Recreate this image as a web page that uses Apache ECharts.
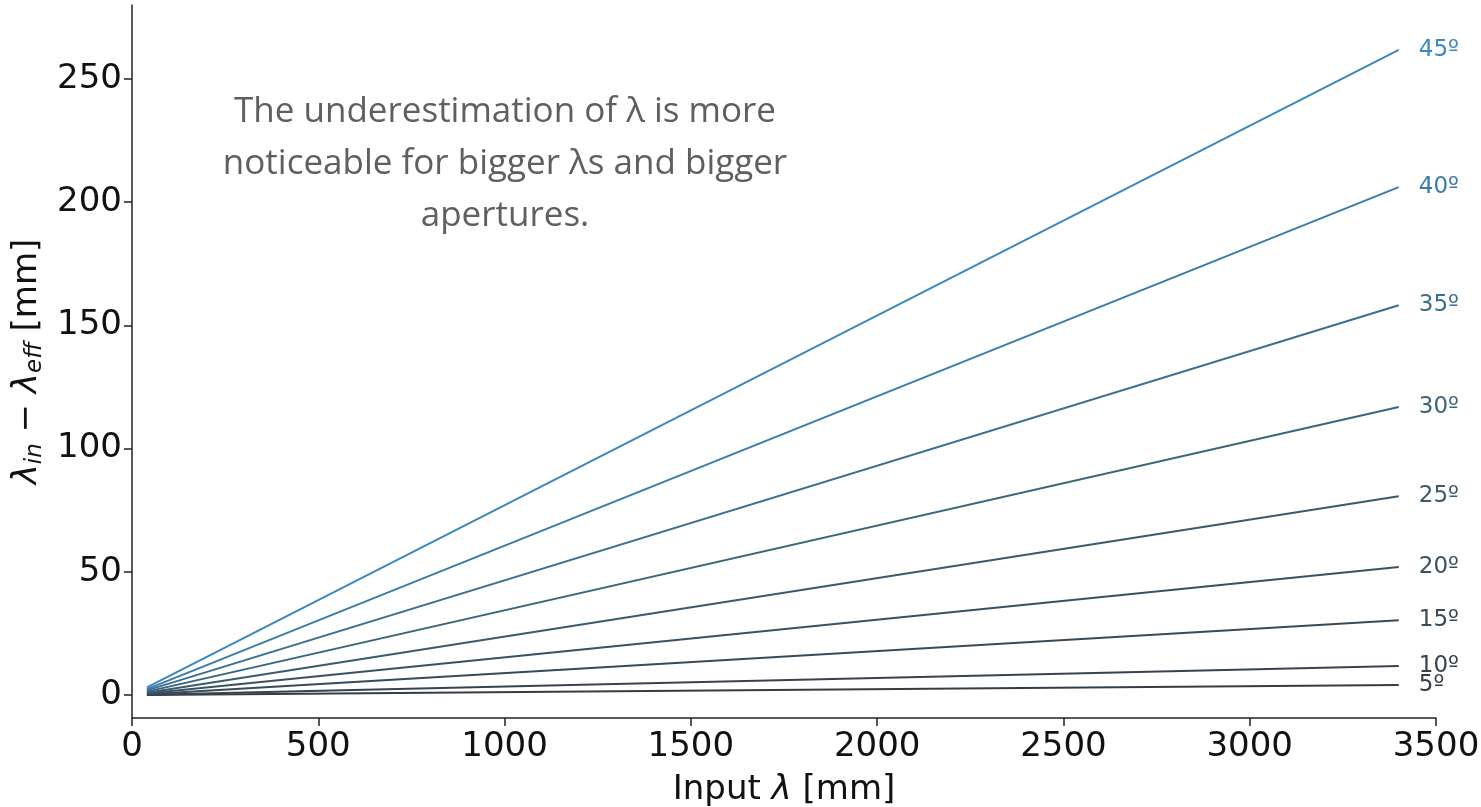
<!DOCTYPE html>
<html>
<head>
<meta charset="utf-8">
<title>Underestimation of λ vs input λ</title>
<script src="https://cdn.jsdelivr.net/npm/echarts@6/dist/echarts.min.js"></script>
<style>
  html, body { margin: 0; padding: 0; background: #ffffff; }
  #chart { width: 1481px; height: 807px; }
</style>
</head>
<body>
<div id="chart"></div>
<script>
// Aperture angles, one line each
const apertures = ['5º', '10º', '15º', '20º', '25º', '30º', '35º', '40º', '45º'];
// Input wavelength at the two ends of each line [mm]
const inputLambda = [40, 3400];
// λ_in − λ_eff at the first and last input wavelength [mm]
const diffStart = [0.05, 0.14, 0.36, 0.6, 0.95, 1.4, 1.9, 2.4, 3.1];
const diffEnd = [4.1, 11.8, 30.4, 52.0, 80.7, 116.9, 158.2, 206.1, 261.8];
// Tick labels
const xTicks = [0, 500, 1000, 1500, 2000, 2500, 3000, 3500];
const yTicks = [0, 50, 100, 150, 200, 250];
// Line colours, dark slate for narrow apertures to steel blue for wide ones
const lineColors = ['#363c44', '#37424d', '#384957', '#395262', '#3a5b6e', '#3b657c', '#3b6f8d', '#3b7ca6', '#3a88bf'];
// Annotation text
const noteLines = ['The underestimation of λ is more', 'noticeable for bigger λs and bigger', 'apertures.'];

const tickFont = 'DejaVu Sans';
const plain = function (v) { return String(v); };

const series = apertures.map(function (name, i) {
  return {
    name: name,
    type: 'line',
    data: [[inputLambda[0], diffStart[i]], [inputLambda[1], diffEnd[i]]],
    showSymbol: false,
    symbol: 'none',
    silent: true,
    z: 2 + i,
    lineStyle: { color: lineColors[i], width: 2 },
    itemStyle: { color: lineColors[i] },
    endLabel: {
      show: true,
      formatter: '{a}',
      color: lineColors[i],
      fontFamily: tickFont,
      fontSize: 23,
      distance: 20
    },
    labelLayout: { hideOverlap: false }
  };
});

const chart = echarts.init(document.getElementById('chart'), null, { renderer: 'canvas' });
chart.setOption({
  animation: false,
  backgroundColor: '#ffffff',
  grid: { left: 132, right: 45, top: 5, bottom: 89, containLabel: false, outerBoundsMode: 'none' },
  xAxis: {
    type: 'value',
    min: 0,
    max: 3500,
    interval: 500,
    axisLine: { show: true, onZero: false, lineStyle: { color: '#222', width: 1.5 } },
    axisTick: { show: true, inside: false, length: 8, lineStyle: { color: '#222', width: 1.5 }, customValues: xTicks },
    axisLabel: { color: '#111', fontFamily: tickFont, fontSize: 34, margin: 12, formatter: plain, customValues: xTicks },
    splitLine: { show: false },
    name: '{n|Input }{i|λ}{n| [mm]}',
    nameLocation: 'middle',
    nameGap: 55,
    nameTextStyle: {
      rich: {
        n: { fontFamily: tickFont, fontSize: 34, color: '#111' },
        i: { fontFamily: tickFont, fontSize: 34, fontStyle: 'italic', color: '#111' }
      }
    }
  },
  yAxis: {
    type: 'value',
    min: -9.3,
    max: 280,
    axisLine: { show: true, onZero: false, lineStyle: { color: '#222', width: 1.5 } },
    axisTick: { show: true, inside: false, length: 8, lineStyle: { color: '#222', width: 1.5 }, customValues: yTicks },
    axisLabel: { color: '#111', fontFamily: tickFont, fontSize: 34, margin: 10, formatter: plain, customValues: yTicks },
    splitLine: { show: false },
    name: '{l|λ}{s|in}{m| − }{l|λ}{s|eff}{m| [mm]}',
    nameLocation: 'middle',
    nameRotate: 90,
    nameGap: 80,
    nameTextStyle: {
      rich: {
        l: { fontFamily: tickFont, fontSize: 34, fontStyle: 'italic', color: '#111', lineHeight: 38 },
        m: { fontFamily: tickFont, fontSize: 34, color: '#111', lineHeight: 38 },
        s: { fontFamily: tickFont, fontSize: 23, fontStyle: 'italic', color: '#111', lineHeight: 18, verticalAlign: 'bottom' }
      }
    }
  },
  graphic: noteLines.map(function (t, k) {
    return {
      type: 'text',
      x: 505,
      y: 112 + k * 52,
      silent: true,
      style: {
        text: t,
        fill: '#5f5f5f',
        font: '35px "Open Sans"',
        textAlign: 'center',
        textVerticalAlign: 'middle'
      }
    };
  }),
  series: series
});
</script>
</body>
</html>
